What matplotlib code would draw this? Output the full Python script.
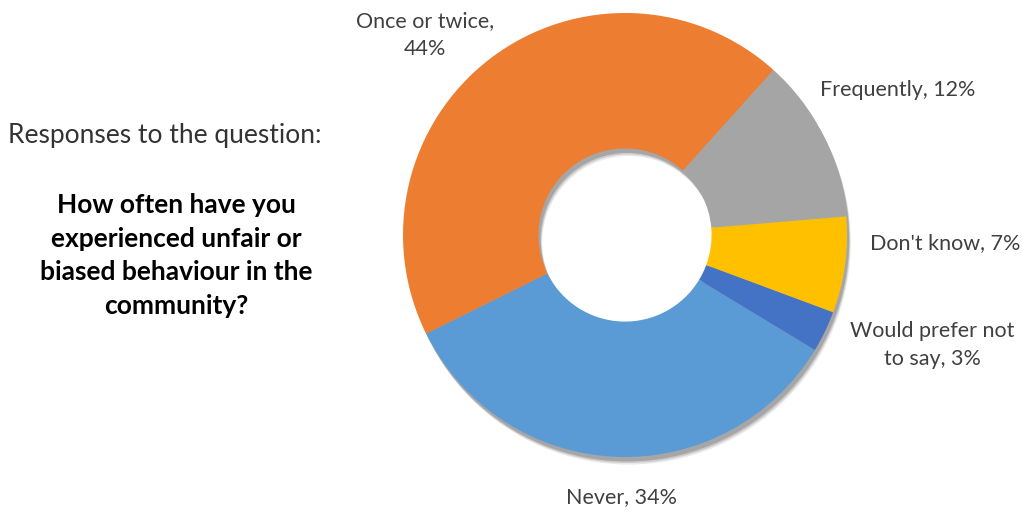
import matplotlib.pyplot as plt

# slice data, clockwise order starting from the Never/prefer-not boundary
categories = ["Never", "Once or twice", "Frequently", "Don't know", "Would prefer not to say"]
shares = [34, 44, 12, 7, 3]
colors = ["#5B9BD5", "#ED7D31", "#A5A5A5", "#FFC000", "#4472C4"]
label_text = ["Never, 34%", "Once or twice,\n44%", "Frequently, 12%", "Don't know, 7%",
              "Would prefer not\nto say, 3%"]
# label centres in pixels (x, y from top)
label_pos = [(621, 497), (425, 35), (898, 90), (945, 243), (932, 345)]

plt.rcParams['font.family'] = ['Lato', 'DejaVu Sans']

W, H = 1027, 511
fig = plt.figure(figsize=(W / 100, H / 100), dpi=100)

cx, cy, r = 625, 235, 222
ax = fig.add_axes([(cx - r) / W, (H - cy - r) / H, 2 * r / W, 2 * r / H])

# soft grey drop shadow, offset down-right
for off, a in [(0.034, 0.15), (0.027, 0.25), (0.02, 0.4)]:
    ax.pie([sum(shares)], colors=['#707070'], radius=1.0, center=(off * 0.5, -off),
           wedgeprops=dict(width=0.61, linewidth=0, alpha=a))

wedges, _ = ax.pie(shares, colors=colors, startangle=-31.2, counterclock=False,
                   radius=1.0, wedgeprops=dict(width=0.61, linewidth=0))
ax.set_xlim(-1, 1)
ax.set_ylim(-1, 1)
ax.set_aspect('equal')
ax.axis('off')

for txt, (x, y) in zip(label_text, label_pos):
    fig.text(x / W, 1 - y / H, txt, ha='center', va='center', fontsize=15.5,
             color='#404040', linespacing=1.45)

# question text on the left
fig.text(8 / W, 1 - 135 / H, "Responses to the question:", ha='left', va='center',
         fontsize=19, color='#333333')
question = ["How often have you", "experienced unfair or", "biased behaviour in the", "community?"]
for i, line in enumerate(question):
    fig.text(176 / W, 1 - (205 + 33.5 * i) / H, line, ha='center', va='center',
             fontsize=19, fontweight='bold', color='black')

fig.savefig("out.png", dpi=100)
